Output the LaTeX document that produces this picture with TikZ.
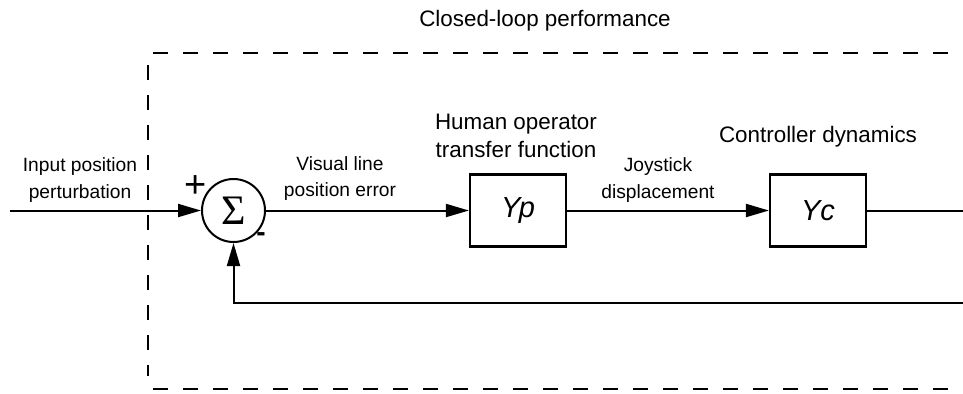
\documentclass[tikz,border=0pt]{standalone}
\usepackage{fontspec}
\setmainfont{Liberation Sans}
\newfontfamily\sigmafont{Liberation Serif}
\usetikzlibrary{arrows.meta}

\begin{document}
\begin{tikzpicture}[x=0.5pt,y=-0.5pt,
    block/.style={draw, line width=1.1pt, minimum width=48pt, minimum height=36pt, inner sep=0pt, font=\fontsize{14.5}{16}\selectfont\itshape},
    sumnode/.style={draw, circle, line width=1pt, minimum size=31.5pt, inner sep=0pt},
    small/.style={align=center, font=\fontsize{9.6}{13.3}\selectfont},
    big/.style={align=center, font=\fontsize{11.2}{14}\selectfont},
    frame/.style={line width=1.4pt, dash pattern=on 7.5pt off 7.5pt},
    flow/.style={line width=1pt, -{Triangle[length=11.5pt,width=6.5pt]}}]
  \useasboundingbox (0,0) rectangle (963,393);

  % dashed boundary (right side runs off the picture)
  \draw[frame] (153,53) -- (963,53);
  \draw[frame] (148,65) -- (148,376);
  \draw[frame] (153,389) -- (963,389);

  \draw (233.5,210.5) node[sumnode] (sum) {\sigmafont\fontsize{21}{22}\selectfont Σ};
  \draw (518,210.5) node[block] (Yp) {Yp};
  \draw (818,210.5) node[block] (Yc) {Yc};
  \coordinate (in) at (10,210.5);
  \coordinate (out) at (963,210.5);
  \coordinate (fb) at (963,303);

  \draw (196,187) node[font=\fontsize{19}{19}\selectfont] (plus) {+};
  \draw (261,237) node[font=\fontsize{14}{14}\selectfont\bfseries] (minus) {-};

  \draw (545,21) node[big] (title) {Closed-loop performance};
  \draw (80,180) node[small] (inlbl) {Input position\\perturbation};
  \draw (340,178.5) node[small] (errlbl) {Visual line\\position error};
  \draw (516,136) node[big] (hotf) {Human operator\\transfer function};
  \draw (658,180) node[small] (joylbl) {Joystick\\displacement};
  \draw (818,137) node[big] (ctrl) {Controller dynamics};

  \path[flow]
  (in) edge (sum)
  (sum) edge (Yp)
  (Yp) edge (Yc)
  ;
  \draw[line width=1pt] (Yc) -- (out);
  \draw[flow] (fb) -| (sum);
\end{tikzpicture}
\end{document}
